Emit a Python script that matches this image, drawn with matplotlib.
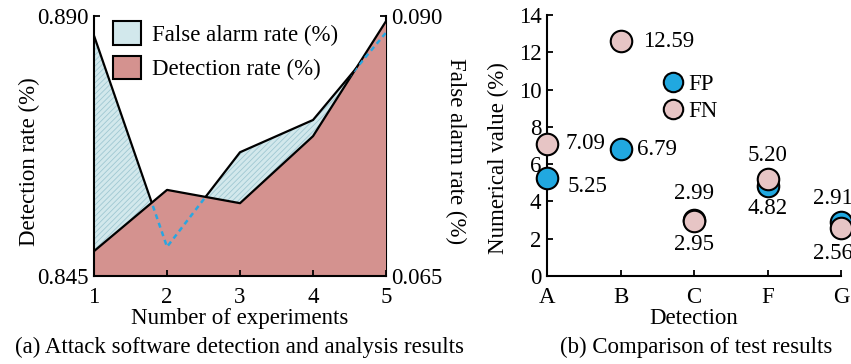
import matplotlib
matplotlib.use("Agg")
import matplotlib.pyplot as plt
from matplotlib.patches import Patch
from matplotlib.lines import Line2D
import numpy as np

plt.rcParams['font.family'] = ['Liberation Serif', 'DejaVu Serif']
plt.rcParams['font.size'] = 16.5
plt.rcParams['hatch.linewidth'] = 0.6

# (a) data
experiments = [1, 2, 3, 4, 5]
detection_rate = [0.8493, 0.8599, 0.8576, 0.8692, 0.8891]
false_alarm_rate = [0.0881, 0.0678, 0.0769, 0.0800, 0.0884]

# (b) data
detections = ["A", "B", "C", "F", "G"]
fp_values = [5.25, 6.79, 2.99, 4.82, 2.91]
fn_values = [7.09, 12.59, 2.95, 5.20, 2.56]

red = '#d4928f'
light_blue = '#d2e8ec'
fp_color = '#21a8e0'
fn_color = '#e7c5c5'

fig = plt.figure(figsize=(8.51, 3.64), dpi=100)

# ---- left panel
ax = fig.add_axes([0.1105, 0.2418, 0.3431, 0.7143])
ax2 = ax.twinx()
ax.set_zorder(ax2.get_zorder() + 1)
ax.patch.set_visible(False)

ax2.fill_between(experiments, 0.0, false_alarm_rate, facecolor=light_blue,
                 edgecolor='#9fc8d2', hatch='//////', linewidth=0)
ax2.plot(experiments, false_alarm_rate, color='black', lw=1.6)

red_fill = ax.fill_between(experiments, 0.0, detection_rate, facecolor=red,
                           edgecolor='none', linewidth=0)
ax.plot(experiments, detection_rate, color='black', lw=1.6)
dash, = ax.plot(experiments, false_alarm_rate, transform=ax2.transData,
                color='#2aa6e0', lw=1.8, ls=(0, (2, 1.6)))
dash.set_clip_path(red_fill.get_paths()[0], red_fill.get_transform())

ax.set_xlim(1, 5)
ax.set_ylim(0.845, 0.890)
ax2.set_ylim(0.065, 0.090)
ax.set_xticks(experiments)
ax.set_yticks([0.845, 0.890])
ax.set_yticklabels(['0.845', '0.890'])
ax2.set_yticks([0.065, 0.090])
ax2.set_yticklabels(['0.065', '0.090'])

for a in (ax, ax2):
    a.spines['top'].set_visible(False)
    for s in a.spines.values():
        s.set_linewidth(1.5)
    a.tick_params(direction='in', length=4, width=1.3, pad=4)
ax.tick_params(axis='x', pad=8)
ax2.spines['left'].set_visible(False)
ax2.spines['bottom'].set_visible(False)
ax.spines['right'].set_visible(False)

ax.set_xlabel("Number of experiments", labelpad=0)
ax.set_ylabel("Detection rate (%)")
ax.yaxis.set_label_coords(-0.185, 0.44)
ax2.set_ylabel("False alarm rate (%)", rotation=270)
ax2.yaxis.set_label_coords(1.275, 0.48)

handles = [Patch(facecolor=light_blue, edgecolor='black', lw=1.5),
           Patch(facecolor=red, edgecolor='black', lw=1.5)]
ax.legend(handles, ["False alarm rate (%)", "Detection rate (%)"],
          loc='upper left', bbox_to_anchor=(0.065, 0.98), frameon=False,
          borderpad=0, handlelength=1.2, handleheight=1.2,
          labelspacing=0.45, handletextpad=0.5, borderaxespad=0)

# ---- right panel
bx = fig.add_axes([0.6428, 0.2418, 0.3455, 0.7170])
xpos = np.arange(len(detections))
bx.scatter(xpos, fp_values, s=240, color=fp_color, edgecolor='black',
           linewidth=1.5, zorder=3, clip_on=False)
bx.scatter(xpos, fn_values, s=240, color=fn_color, edgecolor='black',
           linewidth=1.5, zorder=4, clip_on=False)

bx.set_xlim(0, 4)
bx.set_ylim(0, 14)
bx.set_xticks(xpos)
bx.set_xticklabels(detections)
bx.set_yticks(range(0, 15, 2))
bx.spines['top'].set_visible(False)
bx.spines['right'].set_visible(False)
for s in bx.spines.values():
    s.set_linewidth(1.5)
bx.tick_params(direction='in', length=4, width=1.3, pad=4)
bx.tick_params(axis='x', pad=8)
bx.set_xlabel("Detection", labelpad=0)
bx.set_ylabel("Numerical value (%)")
bx.yaxis.set_label_coords(-0.13, 0.45)

# value labels (offsets in points)
fp_offsets = [(15, -6), (12, 0), (0, 19), (0, -16), (-6, 17)]
fn_offsets = [(13, 0), (16, 0), (0, -17), (0, 17), (-6, -18)]
for i in range(len(detections)):
    for vals, offs in ((fp_values, fp_offsets), (fn_values, fn_offsets)):
        dx, dy = offs[i]
        bx.annotate("%.2f" % vals[i], (xpos[i], vals[i]),
                    xytext=(dx, dy), textcoords='offset points',
                    ha='left' if dx > 0 else 'center', va='center',
                    annotation_clip=False)

leg_handles = [Line2D([], [], ls='none', marker='o', markersize=14,
                      markerfacecolor=fp_color, markeredgecolor='black', markeredgewidth=1.5),
               Line2D([], [], ls='none', marker='o', markersize=14,
                      markerfacecolor=fn_color, markeredgecolor='black', markeredgewidth=1.5)]
bx.legend(leg_handles, ["FP", "FN"], loc='upper left', bbox_to_anchor=(0.39, 0.775),
          frameon=False, borderpad=0, handlelength=1.0, handletextpad=0.15,
          labelspacing=0.25, borderaxespad=0)

fig.text(0.282, 0.045, "(a) Attack software detection and analysis results",
         ha='center', va='center')
fig.text(0.818, 0.045, "(b) Comparison of test results", ha='center', va='center')

fig.savefig("out.png", dpi=100)
